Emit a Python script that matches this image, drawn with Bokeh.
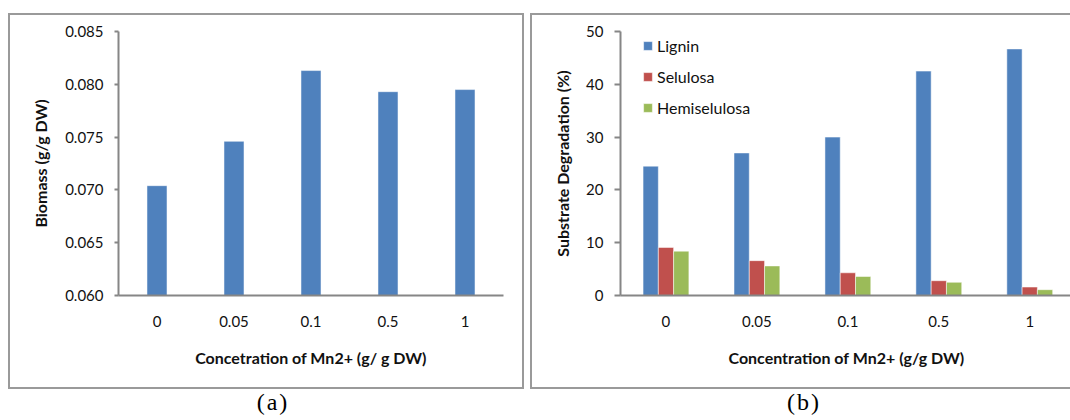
from bokeh.plotting import figure
from bokeh.models import (Range1d, FixedTicker, Legend, LegendItem, ColumnDataSource,
                          Div, Spacer, NumeralTickFormatter)
from bokeh.layouts import row, column
from bokeh.embed import file_html
from bokeh.resources import INLINE
from bokeh.transform import dodge

# ---- data ----
concentrations = ["0", "0.05", "0.1", "0.5", "1"]
biomass = [0.0704, 0.0746, 0.0813, 0.0793, 0.0795]
lignin = [24.5, 27.0, 30.0, 42.5, 46.7]
selulosa = [9.1, 6.6, 4.3, 2.8, 1.6]
hemiselulosa = [8.4, 5.6, 3.6, 2.5, 1.1]
biomass_ticks = [0.060, 0.065, 0.070, 0.075, 0.080, 0.085]
degradation_ticks = [0, 10, 20, 30, 40, 50]

FONT = "Lato"
AXIS_GRAY = "#868686"
BOX = "2px solid #9a9a9a"
BLUE, RED, GREEN = "#4F81BD", "#C0504D", "#9BBB59"


def style_axes(p, ytick_out, ylab_standoff, ytitle_standoff):
    p.grid.visible = False
    p.outline_line_color = None
    for ax in (p.xaxis[0], p.yaxis[0]):
        ax.axis_line_color = AXIS_GRAY
        ax.axis_line_width = 2
        ax.major_tick_line_color = AXIS_GRAY
        ax.major_tick_line_width = 2
        ax.minor_tick_line_color = None
        ax.major_tick_in = 0
        ax.major_label_text_font = FONT
        ax.major_label_text_font_size = "15px"
        ax.major_label_text_color = "#111111"
        ax.axis_label_text_font = FONT
        ax.axis_label_text_font_size = "16px"
        ax.axis_label_text_font_style = "bold"
        ax.axis_label_text_color = "#111111"
    p.xaxis[0].major_tick_out = 0
    p.xaxis[0].major_label_standoff = 20
    p.xaxis[0].axis_label_standoff = 18
    p.yaxis[0].major_tick_out = ytick_out
    p.yaxis[0].major_label_standoff = ylab_standoff
    p.yaxis[0].axis_label_standoff = ytitle_standoff


# ---- panel (a) ----
src_a = ColumnDataSource(dict(conc=concentrations, biomass=biomass))
pa = figure(width=516, height=376, x_range=concentrations, y_range=Range1d(0.060, 0.085),
            output_backend="svg", toolbar_location=None,
            min_border_left=108, min_border_right=23, min_border_top=16, min_border_bottom=96,
            styles={"border": BOX})
pa.vbar(x="conc", top="biomass", bottom=0.060, width=0.26, source=src_a,
        fill_color=BLUE, line_color="white", line_alpha=0.5, line_width=1)
pa.yaxis.ticker = FixedTicker(ticks=biomass_ticks)
pa.yaxis.formatter = NumeralTickFormatter(format="0.000")
pa.xaxis.axis_label = "Concetration of Mn2+ (g/ g DW)"
pa.yaxis.axis_label = "Biomass (g/g DW)"
pa.x_range.range_padding = 0
style_axes(pa, 4, 11, 12)

# ---- panel (b) ----
idx = list(range(len(concentrations)))
src_b = ColumnDataSource(dict(idx=idx, lignin=lignin, selulosa=selulosa, hemi=hemiselulosa))
pb = figure(width=540, height=376, x_range=Range1d(-0.5, 4.47), y_range=Range1d(0, 50),
            output_backend="svg", toolbar_location=None,
            min_border_left=88, min_border_right=0, min_border_top=16, min_border_bottom=96,
            styles={"border-top": BOX, "border-left": BOX, "border-bottom": BOX})
bw = 0.168
r1 = pb.vbar(x=dodge("idx", -bw, range=pb.x_range), top="lignin", width=bw, source=src_b,
             fill_color=BLUE, line_color="white", line_alpha=0.5, line_width=1)
r2 = pb.vbar(x=dodge("idx", 0.0, range=pb.x_range), top="selulosa", width=bw, source=src_b,
             fill_color=RED, line_color="white", line_alpha=0.5, line_width=1)
r3 = pb.vbar(x=dodge("idx", bw, range=pb.x_range), top="hemi", width=bw, source=src_b,
             fill_color=GREEN, line_color="white", line_alpha=0.5, line_width=1)
pb.xaxis.ticker = FixedTicker(ticks=idx)
pb.xaxis.major_label_overrides = {i: c for i, c in zip(idx, concentrations)}
pb.yaxis.ticker = FixedTicker(ticks=degradation_ticks)
pb.xaxis.axis_label = "Concentration of Mn2+ (g/g DW)"
pb.yaxis.axis_label = "Substrate Degradation (%)"
style_axes(pb, 6, 11, 11)

legend = Legend(items=[LegendItem(label="Lignin", renderers=[r1]),
                       LegendItem(label="Selulosa", renderers=[r2]),
                       LegendItem(label="Hemiselulosa", renderers=[r3])],
                location=(22, 178), padding=0, margin=0, spacing=11,
                glyph_width=11, glyph_height=11, label_height=20, label_standoff=4,
                label_text_font=FONT, label_text_font_size="16px", label_text_color="#111111",
                border_line_color=None, background_fill_alpha=0)
pb.add_layout(legend)

cap_style = {"font-family": "Liberation Serif", "font-size": "24px", "line-height": "26px",
             "letter-spacing": "2px", "text-align": "center", "color": "#000000", "margin": "0"}
cap_a = Div(text="(a)", width=530, height=26, styles=dict(cap_style))
cap_b = Div(text="(b)", width=532, height=26, styles=dict(cap_style))

layout = column(Spacer(height=13),
                row(Spacer(width=8), pa, Spacer(width=6), pb),
                row(Spacer(width=8), cap_a, cap_b))
open("out.html", "w").write(file_html(layout, INLINE))
